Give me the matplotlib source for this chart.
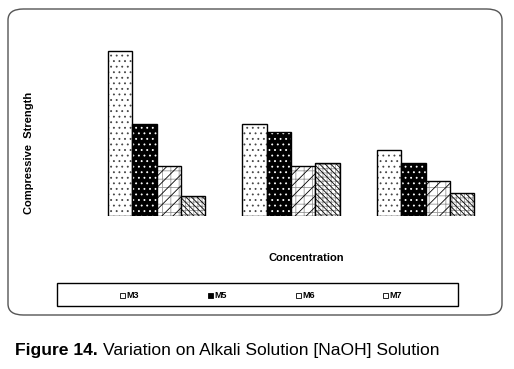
import matplotlib
matplotlib.use("Agg")
import matplotlib.pyplot as plt
from matplotlib.patches import FancyBboxPatch, Rectangle
import numpy as np

# values (arbitrary strength units, no axis shown)
groups = ["G1", "G2", "G3"]
series = ["M3", "M5", "M6", "M7"]
m3 = [165, 92, 66]
m5 = [92, 84, 53]
m6 = [50, 50, 35]
m7 = [20, 53, 23]
values = [m3, m5, m6, m7]

faces = ["white", "black", "white", "white"]
# (hatch, colour) layers drawn over each fill
layers = [
    [("...", "#444444")],
    [("...", "white")],
    [("++", "#999999"), ("///", "black")],
    [("++++", "#999999"), ("\\\\\\\\\\\\", "black")],
]

plt.rcParams["hatch.linewidth"] = 0.6

W, H = 514, 369
fig = plt.figure(figsize=(W / 100, H / 100), dpi=100)

# rounded frame around the chart
frame = FancyBboxPatch((8 / W, 1 - 315 / H), 494 / W, 306 / H,
                       boxstyle="round,pad=0,rounding_size=0.03",
                       transform=fig.transFigure, fill=False,
                       edgecolor="#555555", linewidth=1.0)
fig.patches.append(frame)

# axes in pixel terms: x px = 156.5 + 134.5*x, y bottom at px 216
left_px, right_px = 80, 490
top_px, bot_px = 36, 216
ax = fig.add_axes([left_px / W, 1 - bot_px / H, (right_px - left_px) / W,
                   (bot_px - top_px) / H])
ax.set_xlim((left_px - 156.5) / 134.5, (right_px - 156.5) / 134.5)
ax.set_ylim(0, bot_px - top_px)
ax.axis("off")

bw = 24.4 / 134.5
x = np.arange(len(groups))
for i, (vals, fc) in enumerate(zip(values, faces)):
    pos = x + (i - 1.5) * bw
    ax.bar(pos, vals, bw, color=fc, edgecolor=fc, linewidth=0)
    for hat, hc in layers[i]:
        ax.bar(pos, vals, bw, color="none", edgecolor=hc, hatch=hat, linewidth=0)
    ax.bar(pos, vals, bw, color="none", edgecolor="black", linewidth=1.0)

fig.text(29 / W, 1 - 153 / H, "Compressive  Strength", rotation=90,
         ha="center", va="center", fontsize=8, fontweight="bold",
         family="Liberation Sans")
fig.text(306 / W, 1 - 258 / H, "Concentration", ha="center", va="center",
         fontsize=8, fontweight="bold", family="Liberation Sans")

# legend box
fig.patches.append(Rectangle((57 / W, 1 - 306 / H), 401 / W, 23 / H,
                             transform=fig.transFigure, fill=False,
                             edgecolor="black", linewidth=1.0))
lx = [120, 208, 296, 383]
for j, name in enumerate(series):
    fig.patches.append(Rectangle((lx[j] / W, 1 - 297.5 / H), 5 / W, 5 / H,
                                 transform=fig.transFigure, facecolor=faces[j],
                                 edgecolor="black", linewidth=0.6))
    fig.text((lx[j] + 6) / W, 1 - 295 / H, name, ha="left", va="center",
             fontsize=6.5, fontweight="bold", family="Liberation Sans")

# caption: bold prefix then regular text, scaled to span px 15..441
cap_fs = 14
t1 = fig.text(15 / W, 1 - 350 / H, "Figure 14.", ha="left", va="center",
              fontsize=cap_fs, fontweight="bold", family="Liberation Sans",
              fontstretch="condensed")
t2 = fig.text(0, 1 - 350 / H, "Variation on Alkali Solution [NaOH] Solution",
              ha="left", va="center", fontsize=cap_fs, family="Liberation Sans",
              fontstretch="condensed")
r = fig.canvas.get_renderer()
w1 = t1.get_window_extent(r).width
w2 = t2.get_window_extent(r).width
scale = (441 - 15 - 5) / (w1 + w2)
cap_fs = cap_fs * scale
t1.set_fontsize(cap_fs)
t2.set_fontsize(cap_fs)
w1 = t1.get_window_extent(r).width
t2.set_x((15 + w1 + 5) / W)

fig.savefig("out.png", dpi=100)
